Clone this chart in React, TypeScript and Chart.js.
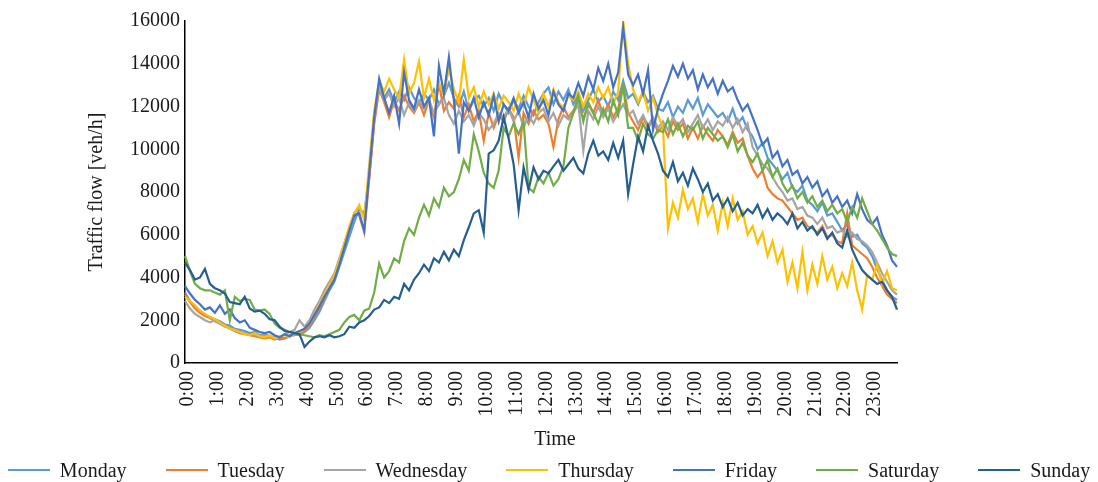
import { useEffect, useRef } from 'react';
import { Chart, registerables } from 'chart.js';

Chart.register(...registerables);

// 10-minute time categories, 0:00 .. 23:50
const timeLabels: string[] = [];
for (let h = 0; h < 24; h++) {
  for (let m = 0; m < 60; m += 10) {
    timeLabels.push(`${h}:${String(m).padStart(2, '0')}`);
  }
}

// Traffic flow per 10 minutes [veh/h], one row per hour
const monday = [
  3300, 2900, 2650, 2450, 2250, 2150,
  2050, 1950, 1800, 1750, 1600, 1550,
  1500, 1400, 1450, 1300, 1350, 1250,
  1200, 1100, 1150, 1250, 1300, 1350,
  1450, 1650, 2000, 2400, 2900, 3400,
  3800, 4500, 5200, 5900, 6600, 7200,
  7000, 8700, 11300, 13000, 12400, 12800,
  12200, 12700, 12300, 12900, 12400, 12100,
  12600, 12300, 12800, 12100, 12500, 13100,
  12400, 12000, 12700, 11800, 12300, 12500,
  12000, 12400, 11800, 12600, 12100, 11700,
  12300, 11900, 12500, 12000, 11600, 12200,
  12600, 12900, 12100, 12700, 12300, 12800,
  12100, 12600, 11800, 12300, 12800, 12200,
  12500, 12000, 12700, 12300, 13200, 12400,
  12600, 12100, 12700, 12200, 12500, 11900,
  11800, 12200, 11500, 12000, 11700, 12300,
  11900, 12400, 11600, 12100, 11800, 11500,
  11700, 11300, 11900, 11200, 11500, 10900,
  10600, 10000, 10300, 9600, 9300, 9000,
  8600, 8900, 8200, 8000, 8300, 7600,
  7400, 7100, 7500, 6900, 7000, 6600,
  6200, 6500, 5900, 6000, 5600, 5400,
  5000, 4400, 3900, 3400, 3100, 2950,
];

const tuesday = [
  3200, 2850, 2550, 2350, 2200, 2100,
  1950, 1850, 1750, 1600, 1500, 1400,
  1350, 1300, 1250, 1200, 1150, 1200,
  1100, 1200, 1150, 1300, 1350, 1300,
  1500, 1750, 2150, 2550, 3000, 3550,
  3900, 4700, 5400, 6200, 7000, 6900,
  6100, 8600, 11200, 12800, 12200, 11500,
  12300, 11800, 12500, 12000, 11700, 12200,
  11600, 12300, 11500, 13100, 11800, 12200,
  11900, 12500, 11500, 12100, 11300, 11800,
  10400, 11700, 11000, 11600, 11300, 11900,
  11500, 9600, 11700, 11200, 11800, 11400,
  11600, 11200, 10100, 11400, 12000, 11500,
  11800, 12200, 11400, 12100, 11700, 12300,
  11600, 12100, 11500, 11900, 13000, 11700,
  11300, 10900, 11500, 11000, 11400, 10800,
  11100, 10600, 11300, 10900, 11200, 10500,
  11000, 10500, 11100, 10700, 10400, 10900,
  10600, 10200, 10800, 10300, 10500, 9700,
  9100, 8700, 9000, 8200, 7900, 7700,
  7600, 7300, 7000, 6700, 6800, 6400,
  6300, 6100, 6400, 5900, 6000, 5700,
  5600, 7000, 5500, 5300, 5100, 4900,
  4500, 4000, 3600, 3200, 3000, 2800,
];

const wednesday = [
  2900, 2550, 2300, 2150, 2000, 1900,
  2000, 1850, 1700, 1650, 1500, 1450,
  1400, 1300, 1350, 1250, 1300, 1200,
  1250, 1200, 1350, 1450, 1550, 2000,
  1700, 2000, 2500, 2900, 3400, 3800,
  4200, 4900, 5600, 6300, 7000, 7300,
  6800, 9000, 11600, 12900, 12300, 12600,
  12000, 12400, 11600, 12200, 11800, 12300,
  11900, 12300, 11700, 12100, 12400, 11600,
  11200, 11800, 11300, 11600, 11100, 11700,
  11400, 10900, 11200, 11700, 11500, 11900,
  11300, 11800, 11000, 11600, 11200, 11700,
  11900, 11300, 11700, 11100, 11600, 11400,
  11700, 12100, 9950, 11800, 11400, 12000,
  11500, 11900, 11300, 11700, 12100, 11600,
  11800, 11200, 11600, 11100, 11500, 11000,
  11300, 10900, 11500, 11100, 11400, 10800,
  11200, 11600, 11000, 11400, 10900, 11300,
  11100, 11500, 11000, 11400, 10800, 11200,
  10100, 9700, 9300, 9100, 8700, 8300,
  8000, 7600, 7700, 7200, 7300, 6900,
  6800, 6500, 6800, 6300, 6400, 6100,
  6200, 5900, 6100, 5800, 5700, 5500,
  5200, 4700, 4200, 3800, 3400, 3200,
];

const thursday = [
  3100, 2900, 2700, 2450, 2300, 2150,
  2050, 1900, 1750, 1600, 1550, 1450,
  1350, 1300, 1400, 1250, 1200, 1300,
  1150, 1250, 1300, 1200, 1350, 1450,
  1600, 1850, 2250, 2750, 3200, 3650,
  4100, 4800, 5600, 6400, 7000, 7400,
  6700, 9300, 11800, 13200, 12700, 13300,
  12800, 12400, 14200, 12600, 13100, 14100,
  12400, 13300, 12300, 13100, 12500, 13800,
  12800, 12200, 14200, 12400, 12900, 12000,
  12700, 12100, 12600, 11900, 12500, 12200,
  11800, 12600, 12000, 12900, 12300, 11700,
  12600, 12000, 12800, 12200, 11900, 12500,
  12300, 12700, 12000, 12600, 12200, 12900,
  12400, 12900, 12100, 12700, 16000, 14000,
  12800, 12200, 12700, 11800, 12400, 11600,
  11000, 6300, 7500, 6800, 8100, 7200,
  7700, 6600, 7900, 6900, 7400, 6200,
  7500, 6400, 7700, 6700, 7100, 6000,
  6400, 5600, 6100, 5000, 5700, 4700,
  5300, 3800, 4700, 3500, 5200, 3400,
  4600, 3700, 5000, 3900, 4500, 3500,
  4200, 3600, 4700, 3400, 2500, 4100,
  3900, 4600, 3700, 4300, 3500, 3400,
];

const friday = [
  3600, 3250, 2950, 2750, 2500, 2600,
  2350, 2700, 2300, 2500, 2100, 1900,
  2000, 1650, 1550, 1450, 1400, 1450,
  1300, 1200, 1350, 1250, 1400, 1500,
  1600, 1850, 2250, 2650, 3100, 3500,
  3900, 4600, 5400, 6200, 6900, 7000,
  6200, 8900, 11500, 13300, 12400, 11700,
  12500, 11200, 13600, 12300, 11900, 12800,
  12000, 12400, 10600, 13900, 12600, 14300,
  12300, 9800, 12200, 11800, 12400, 11500,
  12200, 11600, 12500, 11300, 12100, 11800,
  12400, 11700, 12200, 11500, 12600, 11900,
  12300, 11600, 12700, 12100, 11800, 12600,
  12400, 13100, 12500, 13400, 12800, 13800,
  13200, 14000, 12900, 13600, 15700, 13500,
  13000, 13500, 12600, 13700, 10900, 11900,
  12600, 13200, 13900, 13400, 14000, 13300,
  13700, 12800, 13500, 12900, 13300, 12600,
  13200, 12700, 12900, 12300, 11800, 12100,
  11500, 10900, 10200, 10500, 9600, 9900,
  9200, 9500, 8800, 9000, 8400, 8700,
  8200, 8500, 7800, 8100, 7500, 7800,
  7300, 7600, 7000, 7900, 7200, 6700,
  6500, 6800, 6000, 5500, 4800, 4500,
];

const saturday = [
  5000, 4300, 3700, 3500, 3400, 3400,
  3300, 3200, 3400, 2000, 3100, 2900,
  3000, 2950, 2500, 2450, 2500, 2300,
  1850, 1650, 1550, 1450, 1400, 1350,
  1300, 1250, 1200, 1300, 1250, 1350,
  1450, 1550, 1900, 2150, 2250, 2000,
  2450, 2550, 3300, 4650, 4000, 4300,
  4900, 4700, 5700, 6300, 6000, 6800,
  7400, 6900, 7700, 7300, 8200, 7800,
  8000, 8600, 9500, 9000, 10700, 9900,
  8900, 8400, 8200, 9000, 11000, 10600,
  11200, 10700, 11300, 8200, 8000, 8700,
  8400, 8900, 8300, 8600, 9200, 11000,
  11700, 12500, 11300, 12200, 11700, 11200,
  11900, 11300, 12300, 11600, 13000, 11000,
  11000, 10400, 11200, 10700, 10500, 10900,
  10800, 11400, 10700, 11200, 10600, 11100,
  10900, 11300, 10500, 11000, 10700, 10400,
  10600, 10100, 10700, 9900, 10300, 9700,
  9400, 9800, 9000, 9500, 8700, 9100,
  8400, 8000, 8300, 7700, 8000, 7500,
  7800, 7300, 7600, 7100, 7400, 7000,
  7200, 6600, 7300, 6800, 7700, 7100,
  6500, 6200, 5800, 5400, 5100, 5000,
];

const sunday = [
  4700, 4350, 3900, 4000, 4400, 3700,
  3500, 3400, 3250, 2850, 2800, 2750,
  3100, 2550, 2400, 2450, 2300, 2050,
  2000, 1700, 1500, 1450, 1400, 1350,
  750, 1000, 1200, 1250, 1200, 1300,
  1200, 1250, 1350, 1700, 1650, 1900,
  2000, 2200, 2500, 2600, 2950, 2800,
  3100, 3000, 3700, 3400, 3900, 4200,
  4600, 4300, 4900, 4700, 5200, 4800,
  5300, 5000, 5750, 6350, 7000, 7150,
  6100, 9800, 9950, 10400, 11500, 10500,
  9300, 7150, 9150, 8100, 9150, 8600,
  9000, 8870, 9200, 9500, 9000, 9300,
  9600, 9100, 8870, 9800, 10400, 9700,
  9900, 9500, 10300, 9600, 10400, 7900,
  9300, 10600, 9900, 11100, 10400, 9800,
  9000, 8700, 9400, 8500, 8900, 8300,
  9100, 8600, 8000, 8400, 7600, 7900,
  7300, 7700, 7100, 7500, 6900, 7200,
  7000, 7400, 6800, 7200, 6700, 7000,
  6800, 6500, 7000, 6300, 6600, 6200,
  6400, 6000, 6300, 5800, 6100, 5600,
  5400, 6200, 5300, 4800, 4350, 4100,
  3900, 3700, 3800, 3400, 3100, 2500,
];

const dayNames = ['Monday', 'Tuesday', 'Wednesday', 'Thursday', 'Friday', 'Saturday', 'Sunday'];
const dayColors = ['#5B9BD5', '#ED7D31', '#A5A5A5', '#FFC000', '#4472C4', '#70AD47', '#255E91'];
const dayValues = [monday, tuesday, wednesday, thursday, friday, saturday, sunday];

const yTickStep = 2000;
const yMax = 16000;

const FONT = "'Liberation Serif', 'Times New Roman', 'DejaVu Serif', serif";
const TEXT = '#1a1a1a';

export default function App() {
  const canvasRef = useRef<HTMLCanvasElement | null>(null);

  useEffect(() => {
    const canvas = canvasRef.current;
    if (!canvas) return;
    const chart = new Chart(canvas, {
      type: 'line',
      data: {
        labels: timeLabels,
        datasets: dayNames.map((name, i) => ({
          label: name,
          data: dayValues[i],
          borderColor: dayColors[i],
          backgroundColor: dayColors[i],
          borderWidth: 2.2,
          pointRadius: 0,
          pointHoverRadius: 0,
          tension: 0,
          fill: false,
          order: dayNames.length - i,
        })),
      },
      options: {
        animation: false,
        responsive: false,
        devicePixelRatio: 1,
        events: [],
        layout: { padding: { left: 81, right: 201, top: 21, bottom: 28 } },
        plugins: {
          legend: { display: false },
          tooltip: { enabled: false },
        },
        scales: {
          x: {
            type: 'category',
            offset: false,
            grid: { display: false, drawTicks: false },
            border: { display: true, color: '#000', width: 1.5 },
            ticks: {
              autoSkip: false,
              maxRotation: 90,
              minRotation: 90,
              padding: 8,
              labelOffset: 3,
              color: TEXT,
              font: { family: FONT, size: 20 },
              callback: (_v: any, i: number) => (i % 6 === 0 ? timeLabels[i] : ''),
            },
            title: { display: false },
            afterFit: (s: any) => {
              s.height = 91;
            },
          },
          y: {
            min: 0,
            max: yMax,
            grid: { display: false, drawTicks: false },
            border: { display: true, color: '#000', width: 1.5 },
            ticks: {
              stepSize: yTickStep,
              padding: 5,
              color: TEXT,
              font: { family: FONT, size: 20 },
              callback: (v: any) => String(v),
            },
            title: {
              display: true,
              text: 'Traffic flow [veh/h]',
              color: TEXT,
              font: { family: FONT, size: 20 },
              padding: { top: 4, bottom: 0 },
            },
            afterFit: (s: any) => {
              s.width = 104;
            },
          },
        },
      },
    });
    return () => chart.destroy();
  }, []);

  return (
    <div style={{ position: 'fixed', left: 0, top: 0, width: 1098, height: 482, background: '#fff' }}>
      <canvas ref={canvasRef} width={1098} height={482} style={{ position: 'absolute', left: 0, top: 0 }} />
      <div
        style={{
          position: 'absolute',
          left: 455,
          top: 426,
          width: 200,
          height: 24,
          lineHeight: '24px',
          textAlign: 'center',
          fontFamily: FONT,
          fontSize: 20,
          color: TEXT,
        }}
      >
        Time
      </div>
      <div
        style={{
          position: 'absolute',
          left: 0,
          top: 458,
          width: 1098,
          height: 24,
          display: 'flex',
          justifyContent: 'center',
          alignItems: 'center',
          gap: 39,
          fontFamily: FONT,
          fontSize: 20,
          color: TEXT,
          whiteSpace: 'nowrap',
        }}
      >
        {dayNames.map((name, i) => (
          <div key={name} style={{ display: 'flex', alignItems: 'center' }}>
            <span style={{ display: 'inline-block', width: 42, height: 2.5, background: dayColors[i], marginRight: 10 }} />
            <span>{name}</span>
          </div>
        ))}
      </div>
    </div>
  );
}
